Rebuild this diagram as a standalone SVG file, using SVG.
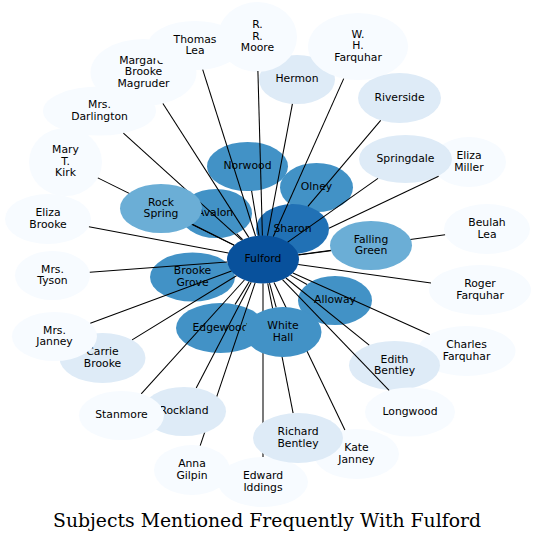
<svg xmlns="http://www.w3.org/2000/svg" width="535" height="543" viewBox="0 0 535 543">
<style>
.n0{fill:#f7fbff}.n1{fill:#deebf7}.n4{fill:#6baed6}.n5{fill:#4292c6}.n6{fill:#2171b5}.n7{fill:#08519c}
text{font-family:"DejaVu Sans","Liberation Sans",sans-serif;font-size:10.8px;text-anchor:middle;fill:#000}
#edges line{stroke:#000;stroke-width:1.05;fill:none}
.title{font-family:"DejaVu Serif","Liberation Serif",serif;font-size:18px;fill:#000}
</style>
<rect width="535" height="543" fill="#fff"/>
<g id="nodes-base">
<g id="n-hermon"><ellipse class="n1" cx="297" cy="79.5" rx="38" ry="24.5"/><text x="297" y="82.3">Hermon</text></g>
<g id="n-magruder"><ellipse class="n0" cx="143.5" cy="72.5" rx="53" ry="33.5"/><text x="143.5" y="63.7">Margaret</text><text x="143.5" y="75.3">Brooke</text><text x="143.5" y="86.9">Magruder</text></g>
<g id="n-darlington"><ellipse class="n0" cx="99.5" cy="111" rx="56.5" ry="24.5"/><text x="99.5" y="108">Mrs.</text><text x="99.5" y="119.6">Darlington</text></g>
<g id="n-thomaslea"><ellipse class="n0" cx="195" cy="45.5" rx="47" ry="24.5"/><text x="195" y="42.5">Thomas</text><text x="195" y="54.1">Lea</text></g>
<g id="n-moore"><ellipse class="n0" cx="257.5" cy="37" rx="39.5" ry="35"/><text x="257.5" y="28.2">R.</text><text x="257.5" y="39.8">R.</text><text x="257.5" y="51.4">Moore</text></g>
<g id="n-whfarquhar"><ellipse class="n0" cx="358" cy="46.5" rx="50" ry="33.5"/><text x="358" y="37.7">W.</text><text x="358" y="49.3">H.</text><text x="358" y="60.9">Farquhar</text></g>
<g id="n-riverside"><ellipse class="n1" cx="399.5" cy="98" rx="41.5" ry="25"/><text x="399.5" y="100.8">Riverside</text></g>
<g id="n-elizamiller"><ellipse class="n0" cx="469" cy="162" rx="37" ry="25"/><text x="469" y="159">Eliza</text><text x="469" y="170.6">Miller</text></g>
<g id="n-springdale"><ellipse class="n1" cx="405.5" cy="159" rx="46.5" ry="24"/><text x="405.5" y="161.8">Springdale</text></g>
<g id="n-beulahlea"><ellipse class="n0" cx="487" cy="229" rx="43" ry="25"/><text x="487" y="226">Beulah</text><text x="487" y="237.6">Lea</text></g>
<g id="n-rogerfarquhar"><ellipse class="n0" cx="480" cy="290" rx="51" ry="25"/><text x="480" y="287">Roger</text><text x="480" y="298.6">Farquhar</text></g>
<g id="n-charlesfarquhar"><ellipse class="n0" cx="466.5" cy="351" rx="49" ry="25"/><text x="466.5" y="348">Charles</text><text x="466.5" y="359.6">Farquhar</text></g>
<g id="n-edithbentley"><ellipse class="n1" cx="394.5" cy="365.5" rx="45.5" ry="24.5"/><text x="394.5" y="362.5">Edith</text><text x="394.5" y="374.1">Bentley</text></g>
<g id="n-longwood"><ellipse class="n0" cx="410" cy="412" rx="45" ry="24.5"/><text x="410" y="414.8">Longwood</text></g>
<g id="n-katejanney"><ellipse class="n0" cx="356.5" cy="454" rx="42.5" ry="25"/><text x="356.5" y="451">Kate</text><text x="356.5" y="462.6">Janney</text></g>
<g id="n-edwardiddings"><ellipse class="n0" cx="263" cy="482" rx="45" ry="25"/><text x="263" y="479">Edward</text><text x="263" y="490.6">Iddings</text></g>
<g id="n-annagilpin"><ellipse class="n0" cx="192" cy="470" rx="38" ry="25"/><text x="192" y="467">Anna</text><text x="192" y="478.6">Gilpin</text></g>
<g id="n-carriebrooke"><ellipse class="n1" cx="102.5" cy="358" rx="43" ry="25"/><text x="102.5" y="355">Carrie</text><text x="102.5" y="366.6">Brooke</text></g>
<g id="n-mrsjanney"><ellipse class="n0" cx="54.5" cy="336.5" rx="42.5" ry="24.5"/><text x="54.5" y="333.5">Mrs.</text><text x="54.5" y="345.1">Janney</text></g>
<g id="n-mrstyson"><ellipse class="n0" cx="52.5" cy="275.5" rx="37.5" ry="24.5"/><text x="52.5" y="272.5">Mrs.</text><text x="52.5" y="284.1">Tyson</text></g>
<g id="n-elizabrooke"><ellipse class="n0" cx="48" cy="219" rx="43" ry="25"/><text x="48" y="216">Eliza</text><text x="48" y="227.6">Brooke</text></g>
<g id="n-marykirk"><ellipse class="n0" cx="65.5" cy="162" rx="36.5" ry="34"/><text x="65.5" y="153.2">Mary</text><text x="65.5" y="164.8">T.</text><text x="65.5" y="176.4">Kirk</text></g>
<g id="n-norwood"><ellipse class="n5" cx="247.5" cy="166.5" rx="40.5" ry="24.5"/><text x="247.5" y="169.3">Norwood</text></g>
<g id="n-olney"><ellipse class="n5" cx="316.5" cy="187.5" rx="36.5" ry="24.5"/><text x="316.5" y="190.3">Olney</text></g>
<g id="n-avalon"><ellipse class="n5" cx="216" cy="213.5" rx="36" ry="24.5"/><text x="215" y="216.3">Avalon</text></g>
<g id="n-brookegrove"><ellipse class="n5" cx="192.5" cy="277" rx="42.5" ry="24.5"/><text x="192.5" y="274">Brooke</text><text x="192.5" y="285.6">Grove</text></g>
<g id="n-edgewood"><ellipse class="n5" cx="220.5" cy="328" rx="44.5" ry="25"/><text x="220.5" y="330.8">Edgewood</text></g>
<g id="n-alloway"><ellipse class="n5" cx="335" cy="300.5" rx="37" ry="24.5"/><text x="335" y="303.3">Alloway</text></g>
<g id="n-sharon"><ellipse class="n6" cx="292.5" cy="229" rx="36.5" ry="25"/><text x="292.5" y="231.8">Sharon</text></g>
<g id="n-fulford"><ellipse class="n7" cx="263" cy="259.5" rx="36" ry="24"/><text x="263" y="262.3">Fulford</text></g>
</g>
<g id="edges">
<line x1="255.5" y1="236" x2="202.7" y2="69.7"/>
<line x1="262.4" y1="235.5" x2="257.9" y2="71"/>
<line x1="248.8" y1="237.4" x2="162.9" y2="103.5"/>
<line x1="241.7" y1="240.2" x2="123.4" y2="133.1"/>
<line x1="234.1" y1="245.2" x2="97.8" y2="177.9"/>
<line x1="234.2" y1="245.1" x2="192.4" y2="224.2"/>
<line x1="228.4" y1="253" x2="88.9" y2="226.7"/>
<line x1="227.2" y1="262.1" x2="89.8" y2="272.3"/>
<line x1="231.5" y1="271.1" x2="90.3" y2="323.3"/>
<line x1="236.5" y1="275.8" x2="132.1" y2="339.9"/>
<line x1="244.4" y1="280" x2="141.2" y2="393.8"/>
<line x1="251.2" y1="282.2" x2="196.2" y2="388"/>
<line x1="255.1" y1="282.9" x2="200.2" y2="445.6"/>
<line x1="263" y1="283.5" x2="263" y2="457"/>
<line x1="267.7" y1="283.3" x2="293.1" y2="413.2"/>
<line x1="274" y1="282.4" x2="344.9" y2="429.9"/>
<line x1="282.5" y1="279.7" x2="389.1" y2="390.3"/>
<line x1="285.9" y1="278" x2="369.2" y2="345.1"/>
<line x1="292.9" y1="272.9" x2="429.7" y2="334.5"/>
<line x1="298.2" y1="264.5" x2="431" y2="283.1"/>
<line x1="298.3" y1="254.7" x2="445.1" y2="234.7"/>
<line x1="298.3" y1="254.9" x2="330.9" y2="250.7"/>
<line x1="438.6" y1="176.3" x2="328.9" y2="228.3"/>
<line x1="287.7" y1="242.1" x2="378" y2="178.4"/>
<line x1="380.7" y1="120.3" x2="307.9" y2="206.4"/>
<line x1="273.3" y1="236.5" x2="343.7" y2="78.6"/>
<line x1="267.5" y1="235.7" x2="292.4" y2="103.8"/>
<line x1="259" y1="235.6" x2="251.6" y2="190.9"/>
<line x1="242.7" y1="239.7" x2="236.6" y2="233.6"/>
<line x1="249.2" y1="281.7" x2="235.1" y2="304.4"/>
<line x1="269.5" y1="283.1" x2="276.2" y2="307.4"/>
<line x1="290.4" y1="275.1" x2="307" y2="284.5"/>
</g>
<g id="nodes-top">
<g id="n-whitehall"><ellipse class="n5" cx="283" cy="332" rx="38.5" ry="25"/><text x="283" y="329">White</text><text x="283" y="340.6">Hall</text></g>
<g id="n-richardbentley"><ellipse class="n1" cx="298" cy="438" rx="45" ry="25"/><text x="298" y="435">Richard</text><text x="298" y="446.6">Bentley</text></g>
<g id="n-rockland"><ellipse class="n1" cx="184" cy="411.5" rx="42" ry="24.5"/><text x="184" y="414.3">Rockland</text></g>
<g id="n-stanmore"><ellipse class="n0" cx="121.5" cy="415.5" rx="42.5" ry="24.5"/><text x="121.5" y="418.3">Stanmore</text></g>
<g id="n-rockspring"><ellipse class="n4" cx="161" cy="208.5" rx="41" ry="24.5"/><text x="161" y="205.5">Rock</text><text x="161" y="217.1">Spring</text></g>
<g id="n-fallinggreen"><ellipse class="n4" cx="371" cy="245.5" rx="41" ry="24.5"/><text x="371" y="242.5">Falling</text><text x="371" y="254.1">Green</text></g>
</g>
<text class="title" x="267" y="527" textLength="428" lengthAdjust="spacingAndGlyphs">Subjects Mentioned Frequently With Fulford</text>
</svg>
